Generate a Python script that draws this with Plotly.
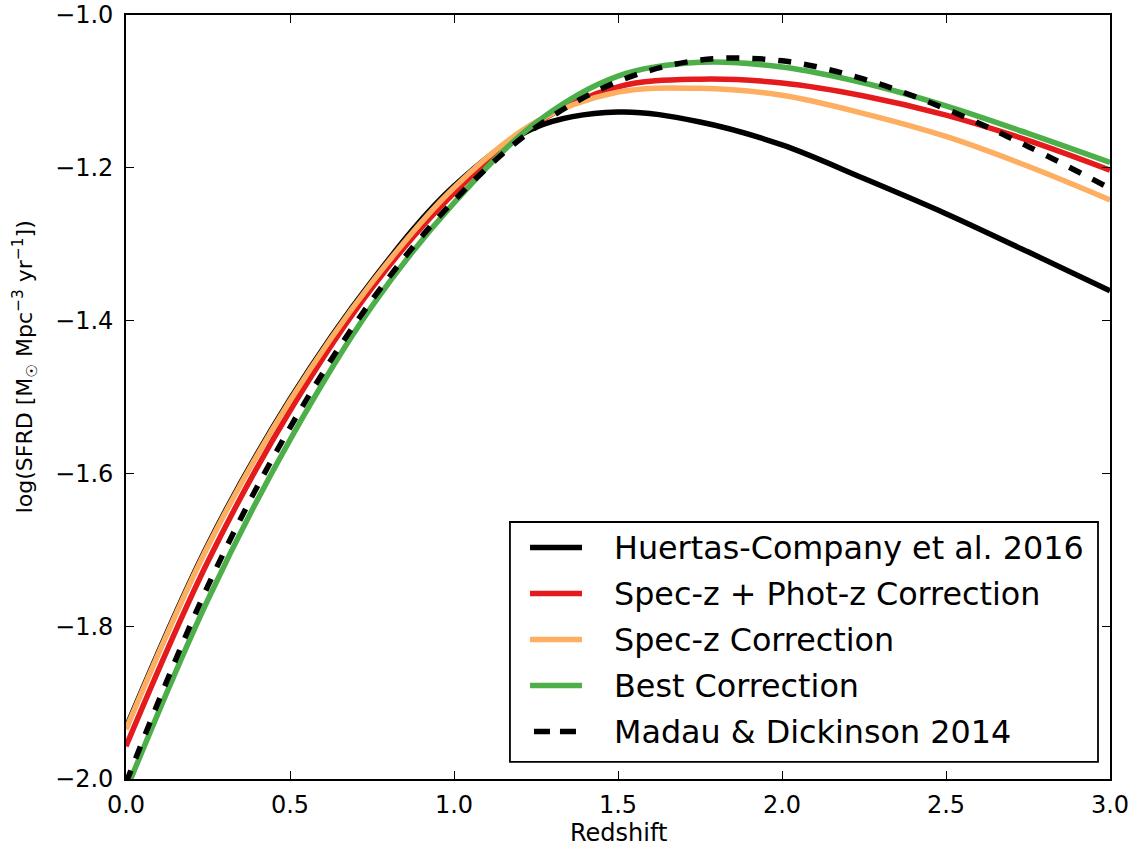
import plotly.graph_objects as go

# Redshift grid and star-formation-rate-density curves (log SFRD)
redshift = [0.0, 0.25, 0.5, 0.75, 1.0, 1.25, 1.5, 1.75, 2.0, 2.25, 2.5, 2.75, 3.0]

huertas_2016 = [-1.933, -1.693, -1.503, -1.348, -1.224, -1.147, -1.127, -1.140,
                -1.170, -1.214, -1.260, -1.310, -1.361]
specz_photz_corr = [-1.957, -1.715, -1.518, -1.357, -1.233, -1.142, -1.094, -1.084,
                    -1.089, -1.106, -1.131, -1.164, -1.203]
specz_corr = [-1.935, -1.695, -1.505, -1.350, -1.226, -1.140, -1.101, -1.096,
              -1.105, -1.129, -1.159, -1.198, -1.242]
best_corr = [-2.015, -1.765, -1.556, -1.381, -1.246, -1.141, -1.080, -1.062,
             -1.068, -1.089, -1.119, -1.155, -1.193]
madau_2014 = [-2.005, -1.747, -1.540, -1.373, -1.243, -1.147, -1.087, -1.059,
              -1.060, -1.084, -1.123, -1.172, -1.227]

series_names = ["Huertas-Company et al. 2016", "Spec-z + Phot-z Correction",
                "Spec-z Correction", "Best Correction", "Madau & Dickinson 2014"]
series_values = [huertas_2016, specz_photz_corr, specz_corr, best_corr, madau_2014]
series_colors = ["#000000", "#e41a1c", "#fdae61", "#4daf4a", "#000000"]
series_dash = ["solid", "solid", "solid", "solid", "13px,13px"]

x_ticks = [0.0, 0.5, 1.0, 1.5, 2.0, 2.5, 3.0]
y_ticks = [-2.0, -1.8, -1.6, -1.4, -1.2, -1.0]

FONT = "DejaVu Sans"
LINE_W = 5.5

fig = go.Figure()
for name, vals, col, dash in zip(series_names, series_values, series_colors, series_dash):
    fig.add_trace(go.Scatter(
        x=redshift, y=vals, mode="lines", name=name,
        line=dict(color=col, width=LINE_W, dash=dash, shape="spline", smoothing=1.0),
        showlegend=False,
    ))

axis_common = dict(
    showline=True, linecolor="black", linewidth=1.8, mirror="ticks",
    ticks="inside", ticklen=8, tickwidth=1, tickcolor="black",
    showgrid=False, zeroline=False, automargin=False,
    tickfont=dict(family=FONT, size=24, color="black"),
)
fig.update_xaxes(range=[0, 3], tickvals=x_ticks, tickformat=".1f",
                 ticklabelstandoff=3, **axis_common)
fig.update_yaxes(range=[-2, -1], tickvals=y_ticks, tickformat=".1f",
                 ticklabelstandoff=6, **axis_common)

# Axis titles
annotations = [
    dict(text="Redshift", x=0.5, y=-0.0707, xref="paper", yref="paper",
         xanchor="center", yanchor="middle", showarrow=False,
         font=dict(family=FONT, size=24, color="black")),
    dict(text="log(SFRD [M<sub>☉</sub> Mpc<sup>−3</sup> yr<sup>−1</sup>])",
         x=-0.1026, y=0.539, xref="paper", yref="paper", textangle=-90,
         xanchor="center", yanchor="middle", showarrow=False,
         font=dict(family=FONT, size=22, color="black")),
]

# Legend box drawn in paper coordinates
shapes = [dict(type="rect", xref="paper", yref="paper",
               x0=0.3902, x1=0.9878, y0=0.0223, y1=0.3364,
               line=dict(color="black", width=1.8), fillcolor="white", layer="above")]
row_y = [0.3030, 0.2428, 0.1826, 0.1224, 0.0622]
for name, col, dash, yy in zip(series_names, series_colors, series_dash, row_y):
    if dash == "solid":
        shapes.append(dict(type="line", xref="paper", yref="paper",
                           x0=0.4106, x1=0.4634, y0=yy, y1=yy, layer="above",
                           line=dict(color=col, width=LINE_W)))
    else:
        shapes.append(dict(type="line", xref="paper", yref="paper",
                           x0=0.4146, x1=0.4593, y0=yy, y1=yy, layer="above",
                           line=dict(color=col, width=LINE_W, dash="16px,10px")))
    annotations.append(dict(text=name, x=0.4939, y=yy, xref="paper", yref="paper",
                            xanchor="left", yanchor="middle", showarrow=False,
                            font=dict(family=FONT, size=31.8, color="black")))

fig.update_layout(
    width=1144, height=852,
    margin=dict(l=126, r=34, t=15, b=73, pad=0),
    paper_bgcolor="white", plot_bgcolor="white",
    shapes=shapes, annotations=annotations,
    font=dict(family=FONT, color="black"),
)

fig.write_html("out.html")
